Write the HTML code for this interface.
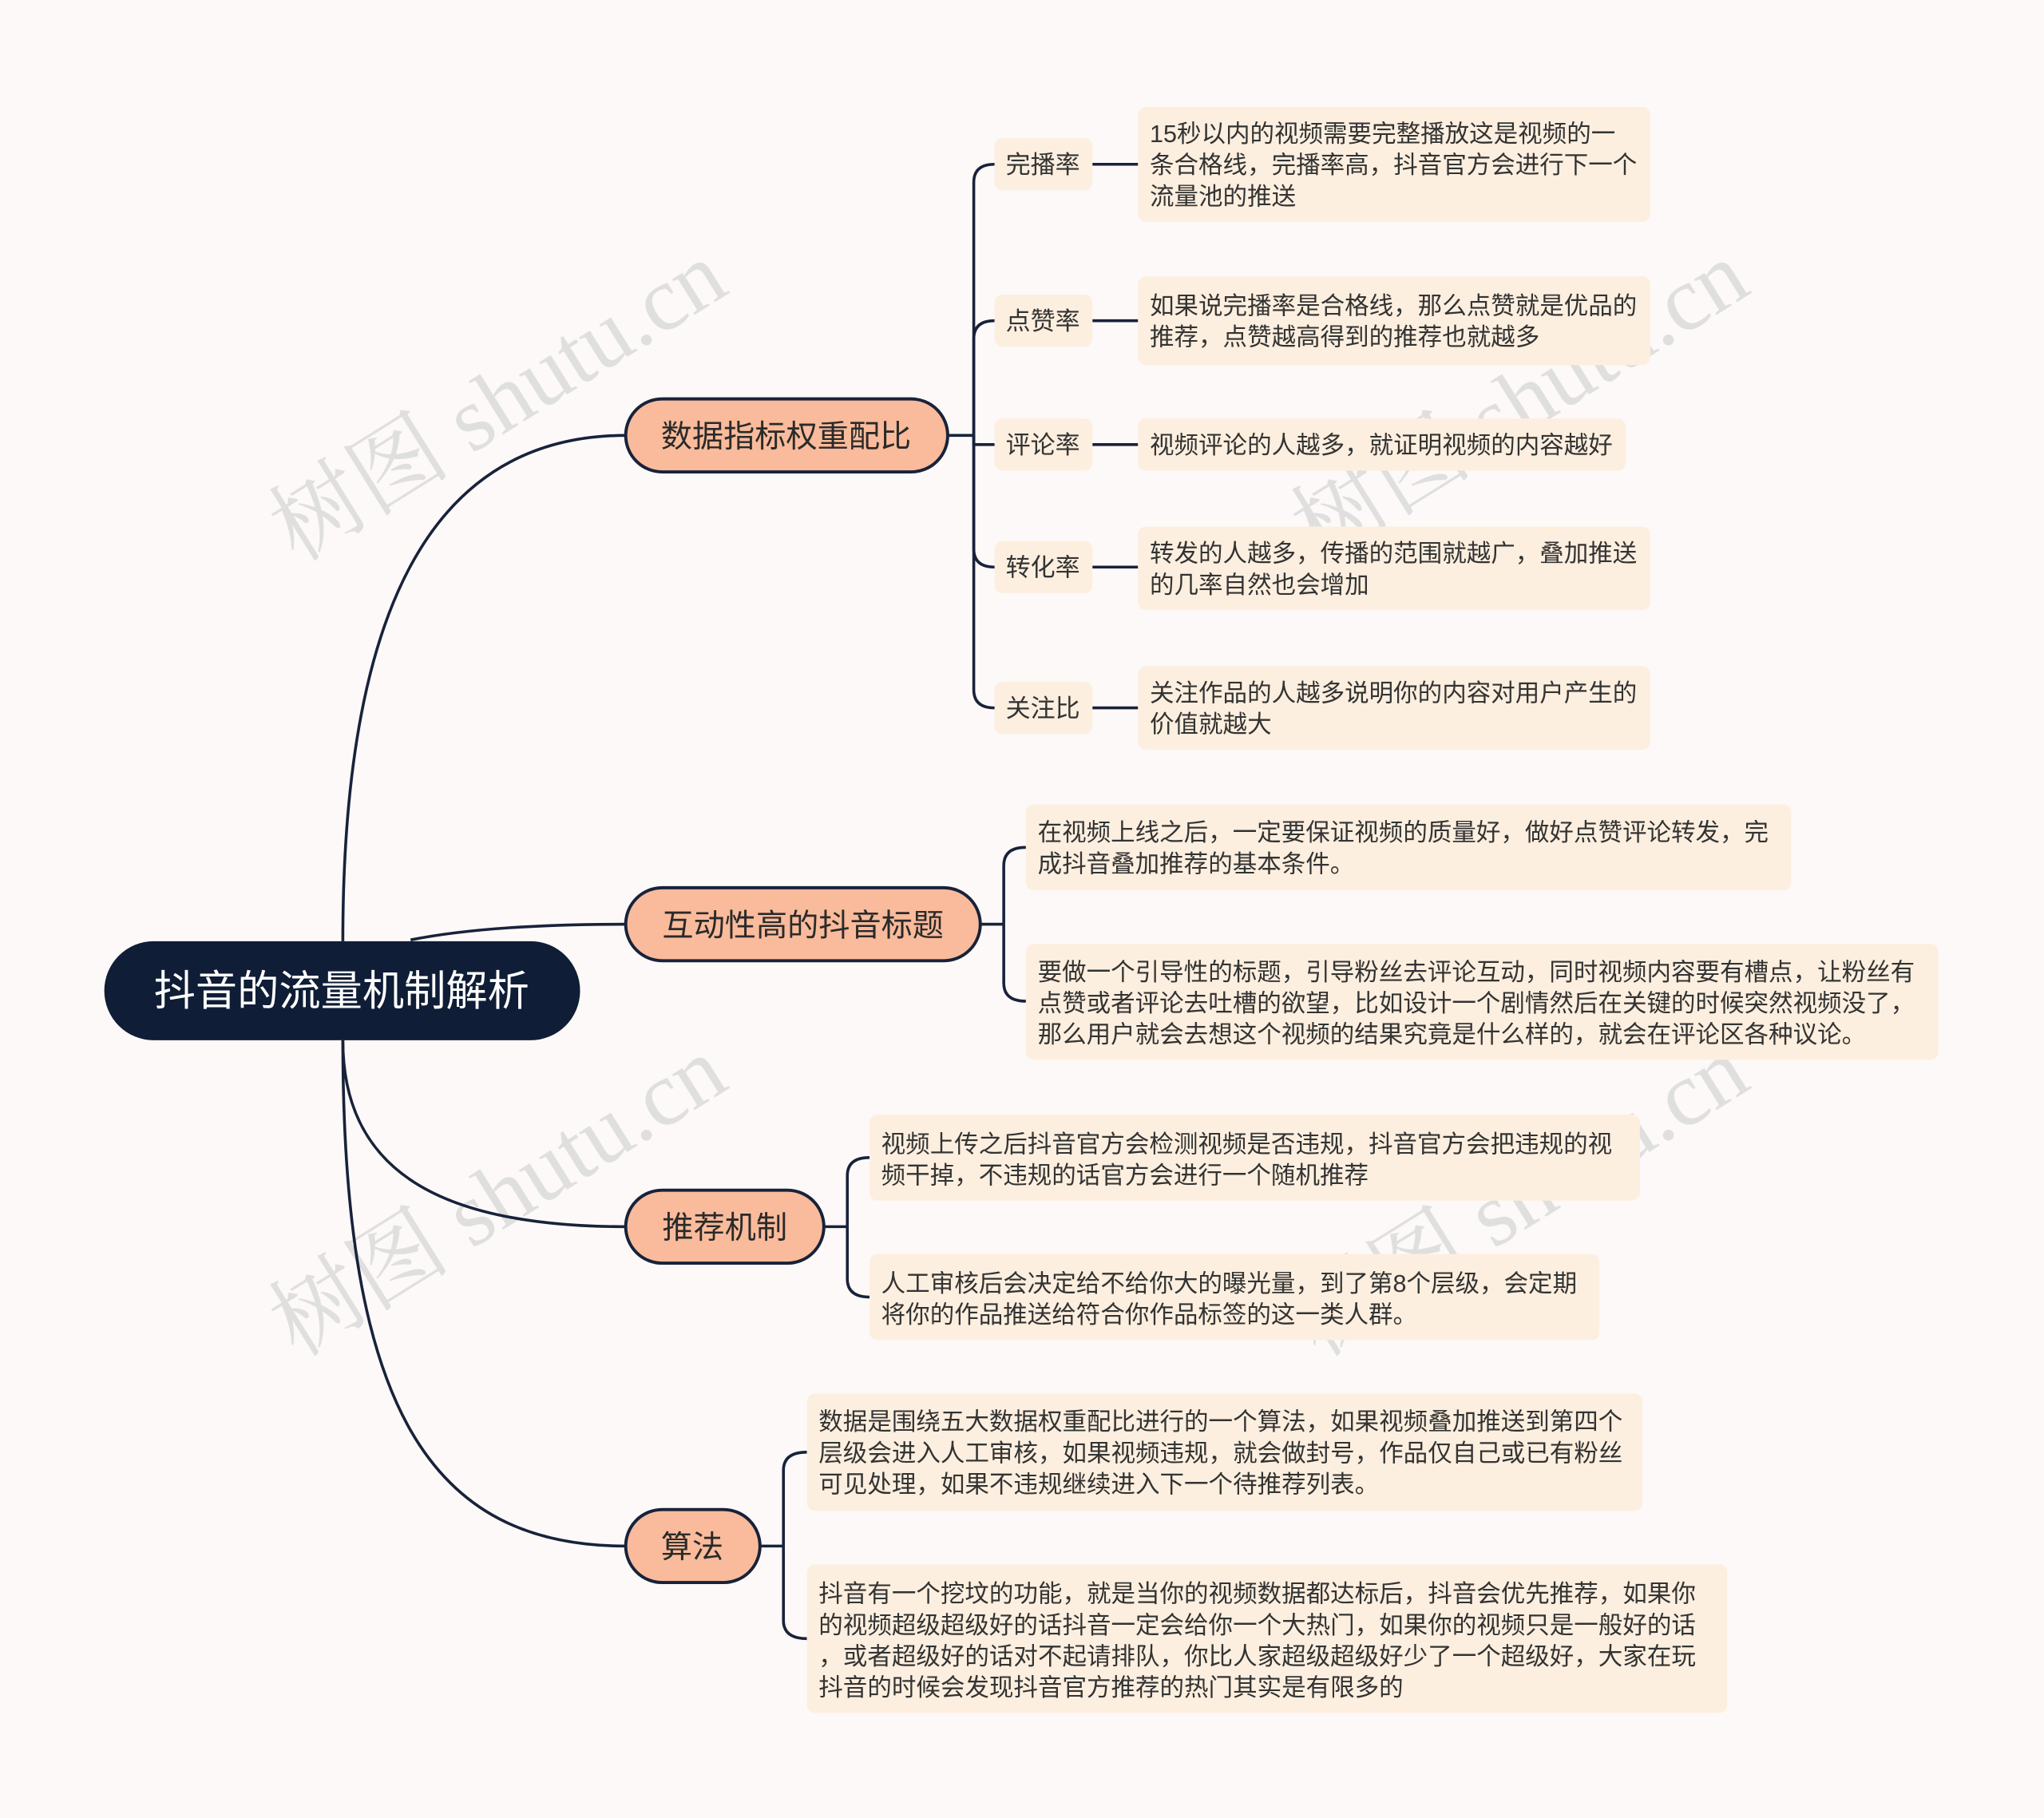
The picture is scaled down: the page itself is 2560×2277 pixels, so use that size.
<!DOCTYPE html>
<html><head><meta charset="utf-8"><style>
html,body{margin:0;padding:0;background:#fcf9f8;}
svg{display:block;}
text{font-family:"Liberation Sans","Noto Sans CJK SC",sans-serif;}
.d{font-size:18.7px;fill:#333;}
.s{font-size:19px;fill:#333;}
.b{font-size:24px;fill:#2a2a2a;}
.c{fill:none;stroke:#18223a;stroke-width:2.2;}
.leaf{fill:#fdefdf;}
.br{fill:#f9bb9b;stroke:#18223a;stroke-width:2.4;}
.w{font-family:"Liberation Serif","Noto Serif CJK SC",serif;}
</style></head><body>
<svg width="2560" height="2277" viewBox="0 0 1568 1394.6" xmlns="http://www.w3.org/2000/svg">
<rect width="1568" height="1395" fill="#fcf9f8"/>
<g fill="#d6d6d6" opacity="0.75" font-size="70">
<text class="w" transform="translate(228,432) rotate(-32)">树图 shutu.cn</text>
<text class="w" transform="translate(1012,432) rotate(-32)">树图 shutu.cn</text>
<text class="w" transform="translate(228,1042) rotate(-32)">树图 shutu.cn</text>
<text class="w" transform="translate(1012,1042) rotate(-32)">树图 shutu.cn</text>
</g>
<path class="c" d="M263 722 C263 470 330 334 480 334"/>
<path class="c" d="M315 721 C360 712 420 709 480 709"/>
<path class="c" d="M263 798 C263 900 340 941 480 941"/>
<path class="c" d="M263 798 C263 1080 330 1186 480 1186"/>
<path class="c" d="M727 334 L747 334"/>
<path class="c" d="M747 334 L747 140 Q747 126 763 126"/>
<path class="c" d="M747 334 L747 260 Q747 246 763 246"/>
<path class="c" d="M747 334 L747 341 L763 341"/>
<path class="c" d="M747 334 L747 421 Q747 435 763 435"/>
<path class="c" d="M747 334 L747 529 Q747 543 763 543"/>
<path class="c" d="M838 126H873 M838 246H873 M838 341H873 M838 435H873 M838 543H873"/>
<path class="c" d="M752 709 L770 709"/>
<path class="c" d="M770 709 L770 664 Q770 650 787 650"/>
<path class="c" d="M770 709 L770 754 Q770 768 787 768"/>
<path class="c" d="M632 941 L650 941"/>
<path class="c" d="M650 941 L650 902 Q650 888 667 888"/>
<path class="c" d="M650 941 L650 981 Q650 995 667 995"/>
<path class="c" d="M583 1186 L601 1186"/>
<path class="c" d="M601 1186 L601 1128 Q601 1114 619 1114"/>
<path class="c" d="M601 1186 L601 1243 Q601 1257 619 1257"/>
<rect x="80" y="722" width="365" height="76" rx="38" fill="#0f1d36"/>
<text x="262" y="771" font-size="32" fill="#fff" text-anchor="middle">抖音的流量机制解析</text>
<rect class="br" x="480" y="306" width="247" height="56" rx="28"/>
<text class="b" x="603" y="343" text-anchor="middle">数据指标权重配比</text>
<rect class="br" x="480" y="681" width="272" height="56" rx="28"/>
<text class="b" x="616" y="718" text-anchor="middle">互动性高的抖音标题</text>
<rect class="br" x="480" y="913" width="152" height="56" rx="28"/>
<text class="b" x="556" y="950" text-anchor="middle">推荐机制</text>
<rect class="br" x="480" y="1158" width="103" height="56" rx="28"/>
<text class="b" x="531" y="1195" text-anchor="middle">算法</text>
<g>
<rect class="leaf" x="763" y="106" width="75" height="40" rx="6"/><text class="s" x="800" y="133" text-anchor="middle">完播率</text>
<rect class="leaf" x="763" y="226" width="75" height="40" rx="6"/><text class="s" x="800" y="253" text-anchor="middle">点赞率</text>
<rect class="leaf" x="763" y="321" width="75" height="40" rx="6"/><text class="s" x="800" y="348" text-anchor="middle">评论率</text>
<rect class="leaf" x="763" y="415" width="75" height="40" rx="6"/><text class="s" x="800" y="442" text-anchor="middle">转化率</text>
<rect class="leaf" x="763" y="523" width="75" height="40" rx="6"/><text class="s" x="800" y="550" text-anchor="middle">关注比</text>
</g>
<rect class="leaf" x="873" y="82" width="393" height="88" rx="6"/>
<text class="d" x="882" y="109">15秒以内的视频需要完整播放这是视频的一</text>
<text class="d" x="882" y="133">条合格线，完播率高，抖音官方会进行下一个</text>
<text class="d" x="882" y="157">流量池的推送</text>
<rect class="leaf" x="873" y="212" width="393" height="68" rx="6"/>
<text class="d" x="882" y="241">如果说完播率是合格线，那么点赞就是优品的</text>
<text class="d" x="882" y="265">推荐，点赞越高得到的推荐也就越多</text>
<rect class="leaf" x="873" y="321" width="374" height="40" rx="6"/>
<text class="d" x="882" y="348">视频评论的人越多，就证明视频的内容越好</text>
<rect class="leaf" x="873" y="404" width="393" height="64" rx="6"/>
<text class="d" x="882" y="431">转发的人越多，传播的范围就越广，叠加推送</text>
<text class="d" x="882" y="455">的几率自然也会增加</text>
<rect class="leaf" x="873" y="511" width="393" height="64" rx="6"/>
<text class="d" x="882" y="538">关注作品的人越多说明你的内容对用户产生的</text>
<text class="d" x="882" y="562">价值就越大</text>
<rect class="leaf" x="787" y="617" width="587" height="66" rx="6"/>
<text class="d" x="796" y="645">在视频上线之后，一定要保证视频的质量好，做好点赞评论转发，完</text>
<text class="d" x="796" y="669">成抖音叠加推荐的基本条件。</text>
<rect class="leaf" x="787" y="724" width="700" height="89" rx="6"/>
<text class="d" x="796" y="752">要做一个引导性的标题，引导粉丝去评论互动，同时视频内容要有槽点，让粉丝有</text>
<text class="d" x="796" y="776">点赞或者评论去吐槽的欲望，比如设计一个剧情然后在关键的时候突然视频没了，</text>
<text class="d" x="796" y="800">那么用户就会去想这个视频的结果究竟是什么样的，就会在评论区各种议论。</text>
<rect class="leaf" x="667" y="855" width="591" height="66" rx="6"/>
<text class="d" x="676" y="884">视频上传之后抖音官方会检测视频是否违规，抖音官方会把违规的视</text>
<text class="d" x="676" y="908">频干掉，不违规的话官方会进行一个随机推荐</text>
<rect class="leaf" x="667" y="962" width="560" height="66" rx="6"/>
<text class="d" x="676" y="991">人工审核后会决定给不给你大的曝光量，到了第8个层级，会定期</text>
<text class="d" x="676" y="1015">将你的作品推送给符合你作品标签的这一类人群。</text>
<rect class="leaf" x="619" y="1069" width="641" height="90" rx="6"/>
<text class="d" x="628" y="1097">数据是围绕五大数据权重配比进行的一个算法，如果视频叠加推送到第四个</text>
<text class="d" x="628" y="1121">层级会进入人工审核，如果视频违规，就会做封号，作品仅自己或已有粉丝</text>
<text class="d" x="628" y="1145">可见处理，如果不违规继续进入下一个待推荐列表。</text>
<rect class="leaf" x="619" y="1200" width="706" height="114" rx="6"/>
<text class="d" x="628" y="1229">抖音有一个挖坟的功能，就是当你的视频数据都达标后，抖音会优先推荐，如果你</text>
<text class="d" x="628" y="1253">的视频超级超级好的话抖音一定会给你一个大热门，如果你的视频只是一般好的话</text>
<text class="d" x="628" y="1277">，或者超级好的话对不起请排队，你比人家超级超级好少了一个超级好，大家在玩</text>
<text class="d" x="628" y="1301">抖音的时候会发现抖音官方推荐的热门其实是有限多的</text>
</svg>
</body></html>
